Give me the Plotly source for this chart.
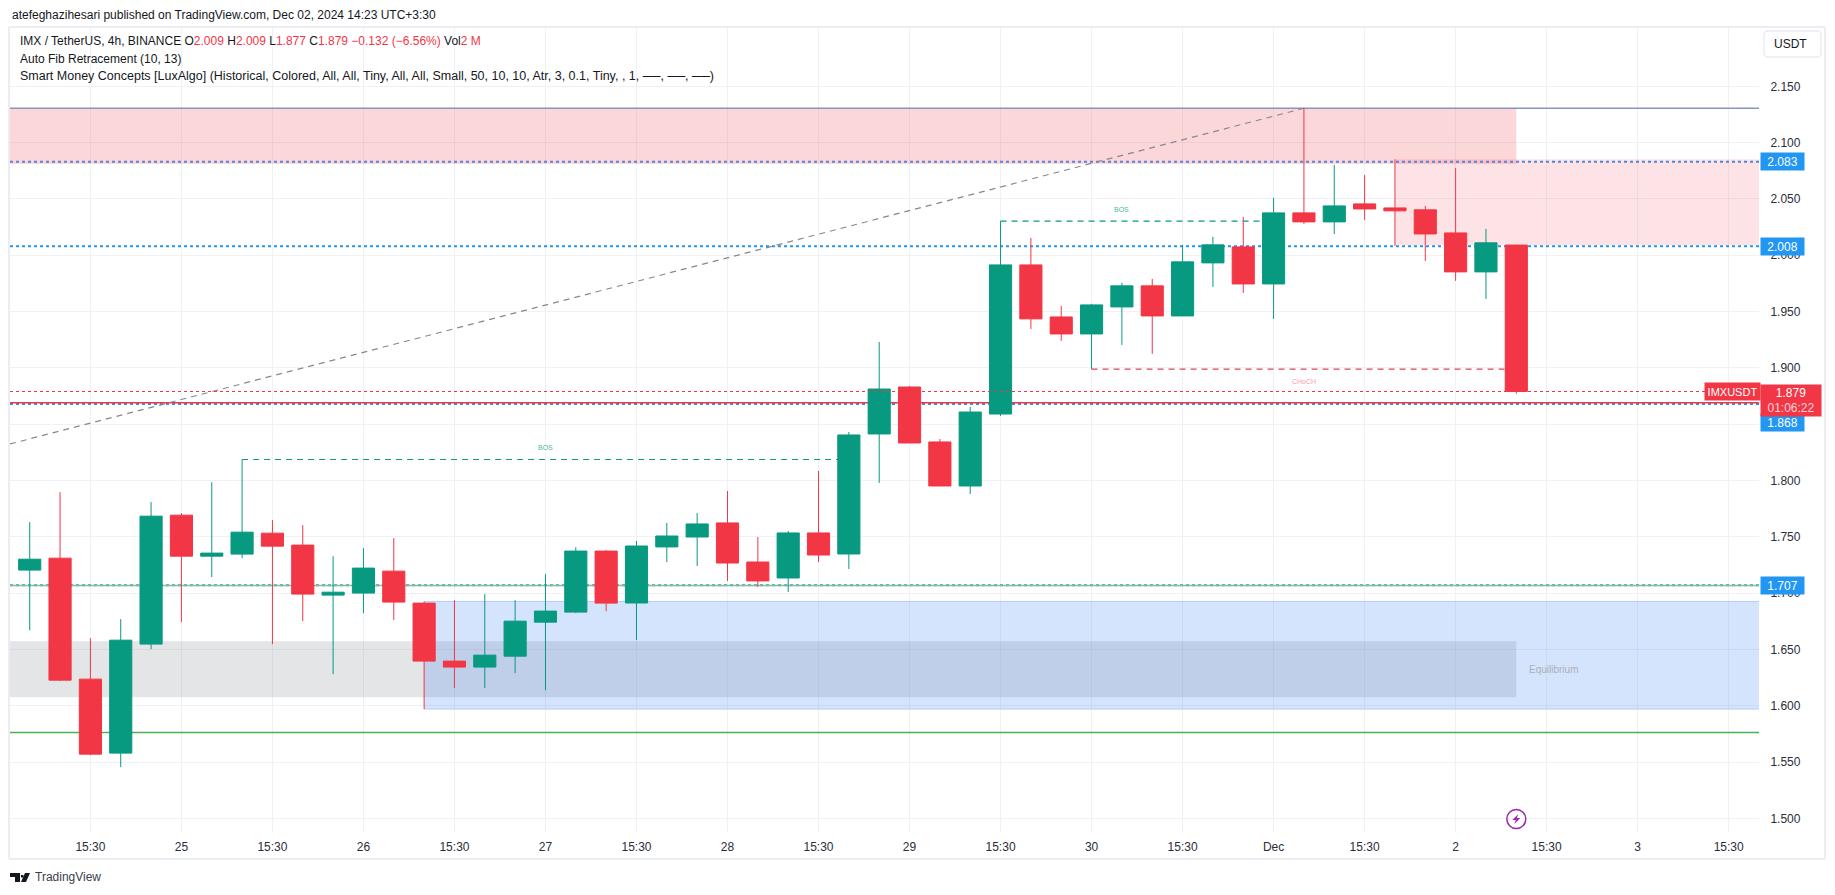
import plotly.graph_objects as go

bar_index = list(range(50))
open_ = [1.7204,1.7310,1.6236,1.5579,1.6547,1.7692,1.7328,1.7346,1.7532,1.7426,
         1.6982,1.7000,1.7195,1.6911,1.6396,1.6343,1.6440,1.6742,1.6831,1.7373,
         1.6912,1.7410,1.7498,1.7623,1.7276,1.7134,1.7534,1.7347,1.8413,1.8830,
         1.8342,1.7951,1.8590,1.9914,1.9452,1.9301,1.9541,1.9728,1.9461,1.9932,
         2.0074,1.9745,2.0376,2.0296,2.0456,2.0420,2.0403,2.0198,1.9852,2.0090]
high_ = [1.7630,1.7896,1.6600,1.6769,1.7808,1.7710,1.7985,1.8186,1.7648,1.7603,
         1.7328,1.7399,1.7488,1.6926,1.6937,1.6991,1.6937,1.7168,1.7408,1.7381,
         1.7463,1.7623,1.7711,1.7907,1.7498,1.7552,1.8084,1.8431,1.9230,1.8839,
         1.8368,1.8653,2.0302,2.0154,1.9550,1.9568,1.9754,1.9790,2.0092,2.0163,
         2.0340,2.0509,2.1305,2.0802,2.0713,2.0852,2.0438,2.0775,2.0234,2.0090]
low_ =  [1.6670,1.6218,1.5561,1.5455,1.6502,1.6742,1.7142,1.7310,1.6547,1.6751,
         1.6280,1.6822,1.6760,1.5970,1.6156,1.6156,1.6289,1.6138,1.6822,1.6840,
         1.6583,1.7276,1.7241,1.7108,1.7054,1.7010,1.7276,1.7214,1.7978,1.8333,
         1.7951,1.7880,1.8573,1.9346,1.9239,1.8988,1.9204,1.9124,1.9461,1.9719,
         1.9666,1.9435,2.0278,2.0189,2.0314,2.0083,1.9950,1.9772,1.9612,1.8770]
close_ = [1.7301,1.6227,1.5570,1.6582,1.7683,1.7328,1.7355,1.7541,1.7417,1.6991,
          1.7008,1.7222,1.6920,1.6396,1.6343,1.6449,1.6751,1.6840,1.7373,1.6911,
          1.7418,1.7507,1.7614,1.7267,1.7108,1.7534,1.7338,1.8404,1.8812,1.8333,
          1.7951,1.8608,1.9914,1.9435,1.9301,1.9559,1.9728,1.9461,1.9941,2.0092,
          1.9745,2.0376,2.0296,2.0438,2.0411,2.0394,2.0189,1.9852,2.0110,1.8790]

y_ticks = [1.50,1.55,1.60,1.65,1.70,1.75,1.80,1.85,1.90,1.95,2.00,2.05,2.10,2.15]
x_tick_vals = [2,5,8,11,14,17,20,23,26,29,32,35,38,41,44,47,50,53,56]
x_tick_text = ["15:30","25","15:30","26","15:30","27","15:30","28","15:30","29","15:30",
               "30","15:30","Dec","15:30","2","15:30","3","15:30"]

supply_top = 2.1305; supply_bottom = 2.081
ob_top = 2.0852; ob_bottom = 2.0089
eq_top = 1.6573; eq_bottom = 1.6076
demand_top = 1.6926; demand_bottom = 1.597
fib_levels = [2.083, 2.008, 1.868, 1.707]
last_price = 1.879
red_level = 1.869
green_upper = 1.7068
green_lower = 1.5762
bos_1 = 1.8186; bos_2 = 2.0302; choch = 1.8988
fib_start = 1.8324
icon_level = 1.4994

RED = "#F23645"; GREEN = "#089981"; BLUE = "#2196F3"; GRID = "#F0F1F4"; TEXT = "#131722"; FRAME = "#ECEDF3"
FONT = "Liberation Sans"
L, R, T, B = 10, 1759, 28, 832
W, H = 1835, 895
xr = [-0.65, 57.0]
yr = [2.15 - (B - 86.3) / 1126.2, 2.15 + (86.3 - T) / 1126.2]
def X(px): return (px - L) / (R - L)
def Y(py): return (B - py) / (B - T)

fig = go.Figure(go.Candlestick(
    x=bar_index, open=open_, high=high_, low=low_, close=close_,
    increasing=dict(line=dict(color=GREEN, width=1), fillcolor=GREEN),
    decreasing=dict(line=dict(color=RED, width=1), fillcolor=RED),
    hoverinfo="skip", showlegend=False))

shapes = []
def rect(x0, x1, y0, y1, fill, **kw):
    shapes.append(dict(type="rect", x0=x0, x1=x1, y0=y0, y1=y1, xref="x", yref="y",
                       fillcolor=fill, line=dict(width=0), layer="between", **kw))
def hline(x0, x1, y, color, width=1, dash="solid", layer="between"):
    shapes.append(dict(type="line", x0=x0, x1=x1, y0=y, y1=y, xref="x", yref="y",
                       line=dict(color=color, width=width, dash=dash), layer=layer))

rect(xr[0], 49, supply_bottom, supply_top, "rgba(242,54,69,0.2)")
rect(45, xr[1], ob_bottom, ob_top, "rgba(242,54,69,0.14)")
rect(xr[0], 49, eq_bottom, eq_top, "rgba(120,123,134,0.2)")
rect(13, xr[1], demand_bottom, demand_top, "rgba(33,110,243,0.19)")
hline(13, xr[1], demand_top, "#B5CDF6")
hline(13, xr[1], demand_bottom, "#B5CDF6")
hline(xr[0], xr[1], supply_top, "#8594C4", 1.5)
hline(xr[0], xr[1], fib_levels[0], "#4F86DC", 2, "dot")
for lv in fib_levels[1:]:
    hline(xr[0], xr[1], lv, BLUE, 2, "dot")
hline(xr[0], xr[1], red_level, RED, 1.5)
hline(xr[0], xr[1], green_upper, "#88BE8B", 1.5)
hline(xr[0], xr[1], green_lower, "#4CAF50", 1.5)
hline(xr[0], xr[1], last_price, RED, 1, "dot", "above")
hline(7, 27, bos_1, GREEN, 1.2, "6px,5px")
hline(32, 41, bos_2, GREEN, 1.2, "6px,5px")
hline(35, 49, choch, "#D8475A", 1.2, "6px,5px")
shapes.append(dict(type="line", x0=xr[0], x1=42, y0=fib_start, y1=supply_top, xref="x", yref="y",
                   line=dict(color="#85888F", width=1.2, dash="6px,5px"), layer="between"))

# Purple event icon: a bolt inside the circle marker
shapes.append(dict(type="path", xref="x", yref="y", xsizemode="pixel", ysizemode="pixel",
                   xanchor=49, yanchor=icon_level, layer="above",
                   path="M 2 5 L -4 -1 L -0.5 -1 L -2 -5 L 4 1 L 0.5 1 Z",
                   fillcolor="#9C27B0", line=dict(width=0)))

# Frame and currency button
for kw in [dict(x0=X(9), x1=X(1825), y0=Y(27), y1=Y(27)),
           dict(x0=X(9), x1=X(1825), y0=Y(859), y1=Y(859)),
           dict(x0=X(9), x1=X(9), y0=Y(27), y1=Y(859)),
           dict(x0=X(1825), x1=X(1825), y0=Y(27), y1=Y(859))]:
    shapes.append(dict(type="line", xref="paper", yref="paper", line=dict(color=FRAME, width=2), **kw))
x0, x1, y0, y1, r = 1764, 1821, 31, 57, 4
btn = (f"M {X(x0+r)} {Y(y0)} L {X(x1-r)} {Y(y0)} Q {X(x1)} {Y(y0)} {X(x1)} {Y(y0+r)} "
       f"L {X(x1)} {Y(y1-r)} Q {X(x1)} {Y(y1)} {X(x1-r)} {Y(y1)} L {X(x0+r)} {Y(y1)} "
       f"Q {X(x0)} {Y(y1)} {X(x0)} {Y(y1-r)} L {X(x0)} {Y(y0+r)} Q {X(x0)} {Y(y0)} {X(x0+r)} {Y(y0)} Z")
shapes.append(dict(type="path", path=btn, xref="paper", yref="paper", line=dict(color=FRAME, width=1.5)))

# TradingView logo
logo = [f"M {X(10)} {Y(873)} L {X(20)} {Y(873)} L {X(20)} {Y(882)} L {X(15)} {Y(882)} L {X(15)} {Y(877)} L {X(10)} {Y(877)} Z",
        f"M {X(21)} {Y(875)} L {X(23.5)} {Y(875)} L {X(23.5)} {Y(877.5)} L {X(21)} {Y(877.5)} Z",
        f"M {X(25)} {Y(873)} L {X(30)} {Y(873)} L {X(26)} {Y(882)} L {X(21)} {Y(882)} Z"]
for p in logo:
    shapes.append(dict(type="path", path=p, xref="paper", yref="paper", fillcolor=TEXT, line=dict(width=0)))

anns = []
def txt(px, py, s, size=12, color=TEXT, anchor="left", **kw):
    anns.append(dict(xref="paper", yref="paper", x=X(px), y=Y(py), text=s, showarrow=False,
                     xanchor=anchor, yanchor="middle", align="left",
                     font=dict(family=FONT, size=size, color=color), **kw))
def r_(s): return f'<span style="color:{RED}">{s}</span>'
sp = "\u00a0"
txt(10, 15, "atefeghazihesari published on TradingView.com, Dec 02, 2024 14:23 UTC+3:30")
txt(18, 41.5, f"IMX / TetherUS, 4h, BINANCE{sp}O{r_('2.009')}{sp}H{r_('2.009')}{sp}L{r_('1.877')}{sp}C{r_('1.879')}{sp}"
              f"{r_('−0.132 (−6.56%)')}{sp}Vol{r_('2 M')}")
txt(18, 59, "Auto Fib Retracement (10, 13)")
txt(18, 76, "Smart Money Concepts [LuxAlgo] (Historical, Colored, All, All, Tiny, All, All, Small, 50, 10, 10, Atr, 3, 0.1, Tiny, , 1, ──, ──, ──)", size=12.5)
txt(1772, 44, "USDT")
txt(33, 877.5, "TradingView", size=12, color="#3A3E4A")

def data_text(xv, yv, s, size, color, **kw):
    anns.append(dict(xref="x", yref="y", x=xv, y=yv, text=s, showarrow=False,
                     font=dict(family=FONT, size=size, color=color), **kw))
data_text(17, bos_1, "BOS", 7, "#4DB6A6", yshift=12)
data_text(36, bos_2, "BOS", 7, "#4DB6A6", yshift=12)
data_text(42, choch, "CHoCH", 7, "#F7A1A9", yshift=-12)
data_text(50.22, 1.6325, "Equilibrium", 10, "#ACAFB8")

def label(px, yv, s, fill, w=43, h=17, yshift=0, size=12, color="white", anchor="left"):
    anns.append(dict(xref="paper", yref="y", x=X(px), y=yv, text=s, showarrow=False, xanchor=anchor,
                     yanchor="middle", width=w, height=h, bgcolor=fill, borderpad=0, yshift=yshift,
                     font=dict(family=FONT, size=size, color=color), align="center"))
label(1760, fib_levels[0], f"{fib_levels[0]:.3f}", BLUE)
label(1760, fib_levels[1], f"{fib_levels[1]:.3f}", BLUE)
label(1760, fib_levels[2], f"{fib_levels[2]:.3f}", BLUE, yshift=-18.5)
label(1760, fib_levels[3], f"{fib_levels[3]:.3f}", BLUE)
label(1760, last_price, f'{last_price:.3f}<br><span style="color:#FBD5D9">01:06:22</span>', RED, w=60, h=31, yshift=-8.5)
label(1704, last_price, "IMXUSDT", RED, w=55, h=17, yshift=0, size=11)

fig.add_trace(go.Scatter(x=[49], y=[icon_level], mode="markers", hoverinfo="skip", showlegend=False,
                         marker=dict(symbol="circle-open", size=19, color="#9C27B0", line=dict(width=1.5, color="#9C27B0"))))

fig.update_layout(
    width=W, height=H, autosize=False, paper_bgcolor="white", plot_bgcolor="white",
    margin=dict(l=L, r=W - R, t=T, b=H - B, pad=0), showlegend=False, boxgap=0.27, boxgroupgap=0,
    shapes=shapes, annotations=anns,
    font=dict(family=FONT, size=12, color=TEXT),
    xaxis=dict(range=xr, tickmode="array", tickvals=x_tick_vals, ticktext=x_tick_text, showgrid=True,
               gridcolor=GRID, gridwidth=1, zeroline=False, showline=False, ticks="outside", ticklen=4,
               tickcolor="rgba(0,0,0,0)", rangeslider=dict(visible=False), tickfont=dict(size=12, color="#2A2E39"),
               fixedrange=True),
    yaxis=dict(range=yr, side="right", tickmode="array", tickvals=y_ticks, tickformat=".3f", showgrid=True,
               gridcolor=GRID, gridwidth=1, zeroline=False, showline=False, ticks="outside", ticklen=8,
               tickcolor="rgba(0,0,0,0)", tickfont=dict(size=12, color="#2A2E39"), fixedrange=True),
)
fig.write_html("out.html", config=dict(displayModeBar=False),
               post_script="document.body.style.margin='0';")
